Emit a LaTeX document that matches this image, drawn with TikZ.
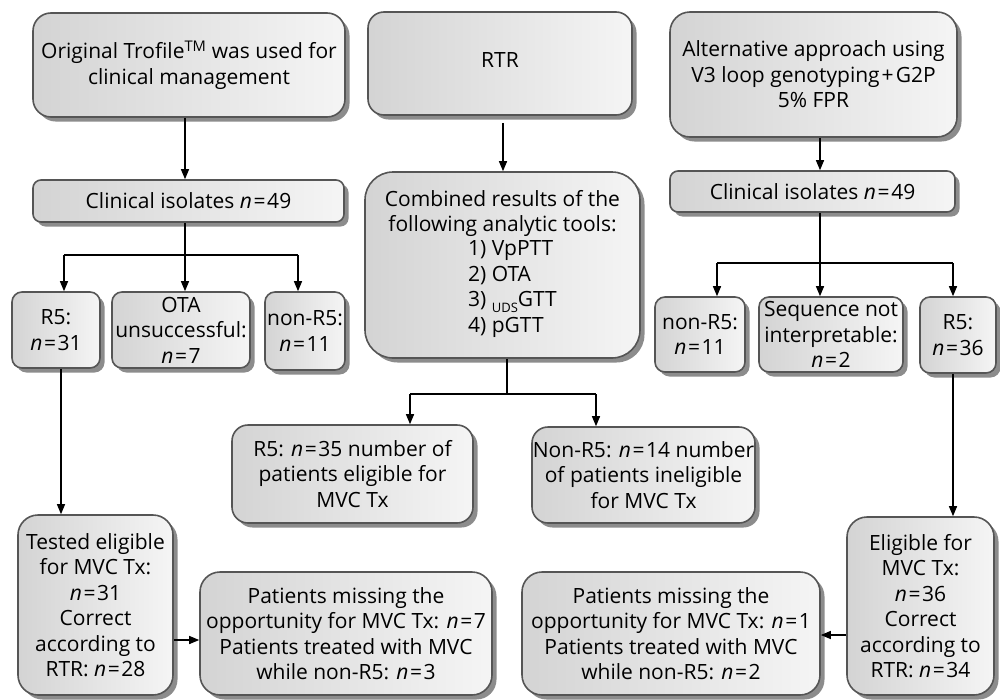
\documentclass[tikz,border=0pt]{standalone}
\usepackage{fontspec}
\setmainfont{Open Sans}
\usetikzlibrary{arrows.meta,shadows,fit,calc}
\newcommand\Nval[1]{\textit{n}\kern1.6pt=\kern1.6pt#1}
\definecolor{bordergray}{HTML}{555555}
\definecolor{shadowgray}{HTML}{8C8C8C}
\tikzset{
  bx/.style={draw=bordergray, line width=1.6pt, inner sep=0pt,
    left color=black!17, right color=black!4,
    drop shadow={shadow xshift=4.5pt, shadow yshift=-4.5pt, fill=shadowgray, opacity=1}},
  txt/.style={align=center, inner sep=0pt, font=\fontsize{21}{25.5}\selectfont},
  conn/.style={line width=1.3pt, black},
  arr/.style={conn, -{Triangle[length=10pt,width=8pt]}},
}
\begin{document}
\begin{tikzpicture}[x=1pt,y=-1pt]
\fill[white] (0,0) rectangle (1000,699);
\useasboundingbox (0,0) rectangle (1000,699);
% top row
\node[bx, rounded corners=18pt, fit={(33,13)(345,117)}] (a) {};
\node[txt] (aT) at (a.center) {Original Trofile\textsuperscript{TM} was used for\\clinical management};
\node[bx, rounded corners=16pt, fit={(368,12)(632,115)}] (c) {};
\node[txt] (cT) at ($(c.center)+(0,-3)$) {RTR};
\node[bx, rounded corners=20pt, fit={(670,12)(957,137)}] (e) {};
\node[txt] (eT) at (e.center) {Alternative approach using\\V3 loop genotyping\kern2pt+\kern2pt G2P\\5\% FPR};
% second row
\node[bx, rounded corners=8pt, fit={(33,180)(344,222)}] (b) {};
\node[txt] (bT) at (b.center) {Clinical isolates \Nval{49}};
\node[bx, rounded corners=28pt, fit={(365,172)(640,358)}] (d) {};
\node[txt] (dT) at (d.center) {Combined results of the\\following analytic tools:\\
  \hspace*{20pt}\begin{tabular}{@{}l@{}}1) VpPTT\\2) OTA\\3) \raisebox{-0.3em}{\fontsize{13}{13}\selectfont UDS}GTT\\4) pGTT\end{tabular}};
\node[bx, rounded corners=8pt, fit={(670,171)(955,212)}] (f) {};
\node[txt] (fT) at (f.center) {Clinical isolates \Nval{49}};
% left third row
\node[bx, rounded corners=10pt, fit={(12,292)(100,368)}] (r5l) {};
\node[txt] (r5lT) at (r5l.center) {R5:\\\Nval{31}};
\node[bx, rounded corners=10pt, fit={(112,292)(250,368)}] (ota) {};
\node[txt] (otaT) at (ota.center) {OTA\\unsuccessful:\\\Nval{7}};
\node[bx, rounded corners=10pt, fit={(265,292)(345,370)}] (nr5l) {};
\node[txt] (nr5lT) at (nr5l.center) {non-R5:\\\Nval{11}};
% right third row
\node[bx, rounded corners=10pt, fit={(655,297)(745,372)}] (nr5r) {};
\node[txt] (nr5rT) at (nr5r.center) {non-R5:\\\Nval{11}};
\node[bx, rounded corners=10pt, fit={(759,297)(903,372)}] (seq) {};
\node[txt] (seqT) at (seq.center) {Sequence not\\interpretable:\\\Nval{2}};
\node[bx, rounded corners=10pt, fit={(920,297)(996,373)}] (r5r) {};
\node[txt] (r5rT) at (r5r.center) {R5:\\\Nval{36}};
% centre results
\node[bx, rounded corners=16pt, fit={(232,425)(473,523)}] (r5c) {};
\node[txt] (r5cT) at (r5c.center) {R5: \Nval{35} number of\\patients eligible for\\MVC Tx};
\node[bx, rounded corners=16pt, fit={(532,427)(755,523)}] (nr5c) {};
\node[txt] (nr5cT) at (nr5c.center) {Non-R5: \Nval{14} number\\of patients ineligible\\for MVC Tx};
% bottom row
\node[bx, rounded corners=20pt, fit={(18,515)(173,695)}] (test) {};
\node[txt] (testT) at (test.center) {Tested eligible\\for MVC Tx:\\\Nval{31}\\Correct\\according to\\RTR: \Nval{28}};
\node[bx, rounded corners=20pt, fit={(200,572)(492,695)}] (pml) {};
\node[txt] (pmlT) at (pml.center) {Patients missing the\\opportunity for MVC Tx: \Nval{7}\\Patients treated with MVC\\while non-R5: \Nval{3}};
\node[bx, rounded corners=20pt, fit={(522,572)(820,695)}] (pmr) {};
\node[txt] (pmrT) at (pmr.center) {Patients missing the\\opportunity for MVC Tx: \Nval{1}\\Patients treated with MVC\\while non-R5: \Nval{2}};
\node[bx, rounded corners=20pt, fit={(847,517)(994,695)}] (elig) {};
\node[txt] (eligT) at (elig.center) {Eligible for\\MVC Tx:\\\Nval{36}\\Correct\\according to\\RTR: \Nval{34}};
% coordinates for connectors
\coordinate (lj) at (185,255);
\coordinate (l1) at (64,255);
\coordinate (l3) at (298,255);
\coordinate (cx) at (503,0);
\coordinate (cj) at (507,394);
\coordinate (c1) at (410,394);
\coordinate (c2) at (596,394);
\coordinate (rj) at (820,263);
\coordinate (r1) at (717,263);
\coordinate (r3) at (953,263);
\coordinate (tx) at (61,0);
\coordinate (ex) at (953,0);
\coordinate (ly) at (0,640);
\coordinate (ry) at (0,635);
% connectors
\draw[arr] (a.south -| lj) -- (b.north -| lj);
\draw[arr] ([yshift=-7pt]c.south -| cx) -- (d.north -| cx);
\draw[arr] (e.south -| rj) -- (f.north -| rj);
\draw[conn] (b.south -| lj) -- (lj);
\draw[conn] (l1) -- (l3);
\draw[arr] (l1) -- (r5l.north -| l1);
\draw[arr] (lj) -- (ota.north -| lj);
\draw[arr] (l3) -- (nr5l.north -| l3);
\draw[conn] (d.south -| cj) -- (cj);
\draw[conn] (c1) -- (c2);
\draw[arr] (c1) -- (r5c.north -| c1);
\draw[arr] (c2) -- (nr5c.north -| c2);
\draw[conn] (f.south -| rj) -- (rj);
\draw[conn] (r1) -- (r3);
\draw[arr] (r1) -- (nr5r.north -| r1);
\draw[arr] (rj) -- (seq.north -| rj);
\draw[arr] (r3) -- (r5r.north -| r3);
\draw[arr] (r5l.south -| tx) -- (test.north -| tx);
\draw[arr] (r5r.south -| ex) -- (elig.north -| ex);
\draw[arr] (test.east |- ly) -- (pml.west |- ly);
\draw[arr] (elig.west |- ry) -- (pmr.east |- ry);
\end{tikzpicture}
\end{document}
